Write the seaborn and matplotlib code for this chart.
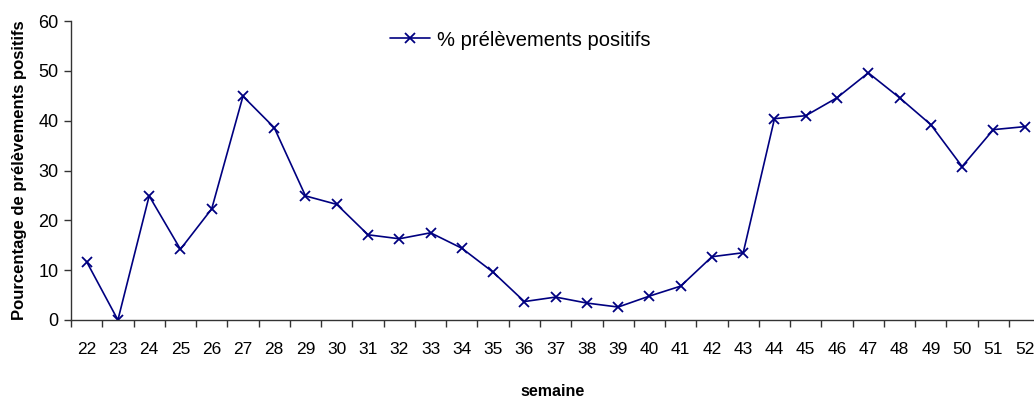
import numpy as np
import pandas as pd
import matplotlib
matplotlib.use("Agg")
import matplotlib.pyplot as plt
from matplotlib.ticker import FixedLocator
import seaborn as sns

weeks = list(range(22, 53))
pct_positive = [11.7, 0.0, 24.9, 14.2, 22.3, 44.9, 38.6, 24.9, 23.2, 17.1,
                16.3, 17.5, 14.4, 9.6, 3.7, 4.6, 3.4, 2.6, 4.8, 6.8,
                12.7, 13.5, 40.4, 41.0, 44.6, 49.6, 44.6, 39.2, 30.8, 38.2,
                38.8]
series_name = "% prélèvements positifs"

df = pd.DataFrame({"semaine": weeks, "pct": pct_positive})

sns.set_style("white")
plt.rcParams["font.family"] = ["Liberation Sans", "DejaVu Sans"]
plt.rcParams["text.color"] = "black"
plt.rcParams["xtick.color"] = "black"
plt.rcParams["ytick.color"] = "black"
plt.rcParams["axes.labelcolor"] = "black"

fig = plt.figure(figsize=(10.34, 4.01), dpi=100)
ax = fig.add_axes([71 / 1034, 81 / 401, 1 - 71 / 1034, 299 / 401])

sns.lineplot(data=df, x="semaine", y="pct", ax=ax, color="#000080",
             marker="x", markersize=7.5, markeredgewidth=1.3,
             markeredgecolor="#000080", linewidth=1.2, label=series_name)

ax.set_ylim(0, 60)
ax.set_xlim(21.5, 52.3)
ax.set_yticks(range(0, 61, 10))
ax.set_xticks(weeks)
ax.xaxis.set_minor_locator(FixedLocator([w - 0.5 for w in weeks] + [52.5]))
ax.tick_params(axis="x", which="major", length=0, labelsize=12.5, pad=16)
ax.tick_params(axis="x", which="minor", length=5, width=1, color="#333333",
               direction="out", bottom=True)
ax.tick_params(axis="y", length=5, width=1, color="#333333", direction="out",
               left=True, labelsize=13, pad=4)

for side in ["top", "right"]:
    ax.spines[side].set_visible(False)
for side in ["left", "bottom"]:
    ax.spines[side].set_color("#333333")
    ax.spines[side].set_linewidth(1)

ax.set_xlabel("semaine", fontsize=11.5, fontweight="bold", labelpad=19)
ax.set_ylabel("Pourcentage de prélèvements positifs", fontsize=12,
              fontweight="bold", labelpad=8)

ax.legend(loc="center", bbox_to_anchor=(520 / 1034, 1 - 40 / 401),
          bbox_transform=fig.transFigure, frameon=False, fontsize=14.5,
          handlelength=2, handletextpad=0.35)

fig.savefig("out.png", dpi=100)
